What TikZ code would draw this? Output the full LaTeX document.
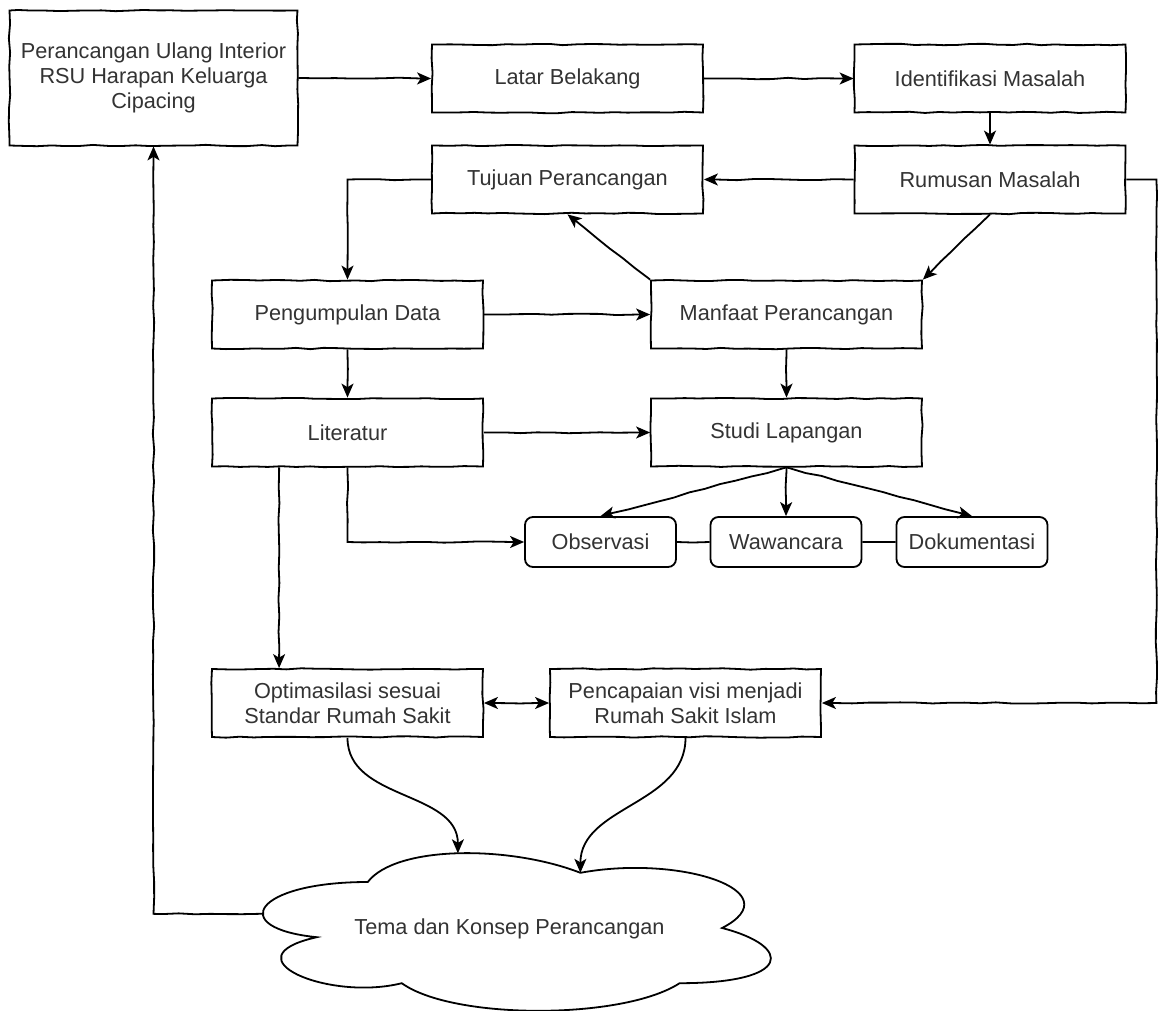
\documentclass[tikz,border=0pt]{standalone}
\usepackage{fontspec}
\setmainfont{Liberation Sans}
\usepackage{tikz}
\usetikzlibrary{arrows.meta,positioning,calc,decorations.pathmorphing}
\pgfmathsetseed{17}

\tikzset{
	>={Stealth[length=7pt,width=6pt,inset=1.8pt]},
	wobble/.style={decorate, decoration={random steps, segment length=7pt, amplitude=0.35pt}},
	basebox/.style={draw=black, line width=0.9pt, fill=white, text=black!80, align=center,
		font=\fontsize{10.85pt}{12.5pt}\selectfont, inner sep=0pt,
		minimum width=135.5pt, minimum height=34pt},
	box/.style={basebox, wobble},
	smallbox/.style={basebox, rounded corners=4pt, minimum width=75.5pt, minimum height=25pt},
	link/.style={line width=0.9pt, ->, decorate,
		decoration={random steps, segment length=8pt, amplitude=0.35pt, pre length=2pt, post length=6pt}},
	plainlink/.style={line width=0.9pt, decorate,
		decoration={random steps, segment length=8pt, amplitude=0.35pt}},
	curvelink/.style={line width=0.9pt, ->},
}

\begin{document}
\begin{tikzpicture}[x=0.5pt, y=-0.5pt]
	\useasboundingbox (0,0) rectangle (1158,1011);

	\node[box, minimum width=144pt, minimum height=67.5pt] (perancangan) at (153.5,78) {Perancangan Ulang Interior\\RSU Harapan Keluarga\\Cipacing};
	\node[box] (latar) at (567.5,78.5) {Latar Belakang};
	\node[box] (identifikasi) at (990,78.5) {Identifikasi Masalah};
	\node[box] (tujuan) at (567.5,179.5) {Tujuan Perancangan};
	\node[box] (rumusan) at (990,179.5) {Rumusan Masalah};
	\node[box] (pengumpulan) at (347.5,314.5) {Pengumpulan Data};
	\node[box] (manfaat) at (786.5,314.5) {Manfaat Perancangan};
	\node[box] (literatur) at (347.5,432.5) {Literatur};
	\node[box] (studi) at (786.5,432.5) {Studi Lapangan};
	\node[smallbox] (observasi) at (600.5,542) {Observasi};
	\node[smallbox] (wawancara) at (786,542) {Wawancara};
	\node[smallbox] (dokumentasi) at (972,542) {Dokumentasi};
	\node[box] (optimasi) at (347.5,703) {Optimasilasi sesuai\\Standar Rumah Sakit};
	\node[box] (pencapaian) at (685.5,703) {Pencapaian visi menjadi\\Rumah Sakit Islam};

	\begin{scope}[shift={(113pt,-418pt)}, x=283.5pt, y=-92pt]
		\draw[line width=0.9pt, fill=white] (0.25,0.25) .. controls (0.05,0.25) and (0,0.5) .. (0.16,0.55)
			.. controls (0,0.66) and (0.18,0.9) .. (0.31,0.8)
			.. controls (0.4,1) and (0.7,1) .. (0.8,0.8)
			.. controls (1,0.8) and (1,0.6) .. (0.875,0.5)
			.. controls (1,0.3) and (0.8,0.1) .. (0.625,0.2)
			.. controls (0.5,0.05) and (0.3,0.05) .. (0.25,0.25) -- cycle;
		\coordinate (tema-w) at (0.065,0.423);
		\coordinate (tema-n) at (0.409,0.094);
		\coordinate (tema-cusp) at (0.625,0.2);
	\end{scope}
	\node[text=black!80, font=\fontsize{10.85pt}{12.5pt}\selectfont] (tema) at (509.5,929) {Tema dan Konsep Perancangan};

	\draw[link] (perancangan.east) -- (latar.west);
	\draw[link] (latar.east) -- (identifikasi.west);
	\draw[link] (identifikasi.south) -- (rumusan.north);
	\draw[link] (rumusan.west) -- (tujuan.east);
	\draw[link] (tujuan.west) -| (pengumpulan.north);
	\draw[link] (manfaat.north west) -- (tujuan.south);
	\draw[link] (rumusan.south) -- (manfaat.north east);
	\draw[link] (pengumpulan.east) -- (manfaat.west);
	\draw[link] (pengumpulan.south) -- (literatur.north);
	\draw[link] (manfaat.south) -- (studi.north);
	\draw[link] (literatur.east) -- (studi.west);
	\draw[link] (literatur.south) |- (observasi.west);
	\draw[link] (studi.south) -- (observasi.north);
	\draw[link] (studi.south) -- (wawancara.north);
	\draw[link] (studi.south) -- (dokumentasi.north);
	\draw[plainlink] (observasi.east) -- (wawancara.west);
	\draw[plainlink] (wawancara.east) -- (dokumentasi.west);
	\coordinate (lit-a) at ($(literatur.south west)+(68,0)$);
	\draw[link] (lit-a) -- (lit-a |- optimasi.north);
	\draw[link, <->] (optimasi.east) -- (pencapaian.west);
	\draw[link] (rumusan.east) -- ++(30,0) |- (pencapaian.east);
	\draw[curvelink] (optimasi.south) to[out=-90, in=90] (tema-n);
	\draw[curvelink] (pencapaian.south) to[out=-90, in=90] (tema-cusp);
	\draw[link] (tema-w) -| (perancangan.south);
\end{tikzpicture}
\end{document}
